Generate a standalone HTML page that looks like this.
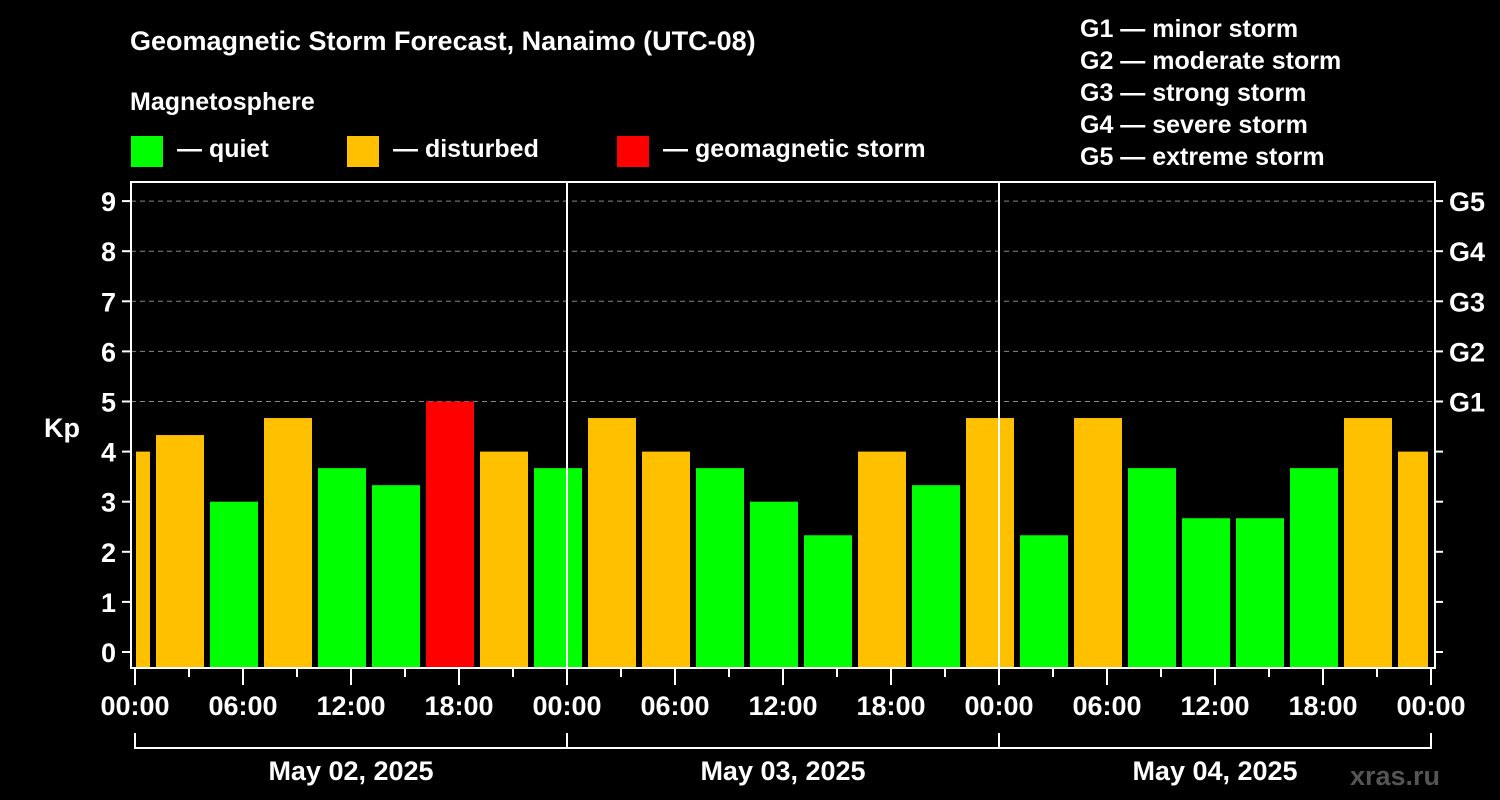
<!DOCTYPE html>
<html><head><meta charset="utf-8"><style>
html,body{margin:0;padding:0;background:#000;}
svg{display:block;font-family:"Liberation Sans",Arial,sans-serif;font-weight:bold;}
</style></head><body>
<svg id="chart" width="1500" height="800" viewBox="0 0 1500 800">
<text x="130" y="50" fill="#fff" font-size="27">Geomagnetic Storm Forecast, Nanaimo (UTC-08)</text>
<text x="130" y="110" fill="#fff" font-size="25">Magnetosphere</text>
<g><rect x="131" y="136" width="32" height="31" fill="#00ff00"/><text x="177" y="157" fill="#fff" font-size="25">— quiet</text></g>
<g><rect x="347" y="136" width="32" height="31" fill="#ffc000"/><text x="393" y="157" fill="#fff" font-size="25">— disturbed</text></g>
<g><rect x="617" y="136" width="32" height="31" fill="#ff0000"/><text x="663" y="157" fill="#fff" font-size="25">— geomagnetic storm</text></g>
<g fill="#fff" font-size="25">
<text x="1080" y="37">G1 — minor storm</text>
<text x="1080" y="69">G2 — moderate storm</text>
<text x="1080" y="101">G3 — strong storm</text>
<text x="1080" y="133">G4 — severe storm</text>
<text x="1080" y="165">G5 — extreme storm</text>
</g>
<text x="62" y="437" fill="#fff" font-size="27" text-anchor="middle">Kp</text>
<text x="1440" y="785" fill="#555" font-size="27" text-anchor="end">xras.ru</text>
<g id="grid"></g><g id="bars"></g><g id="axes"></g>
</svg>
<script>
const kpValues = [4.0, 4.33, 3.0, 4.67, 3.67, 3.33, 5.0, 4.0, 3.67, 4.67, 4.0, 3.67, 3.0, 2.33, 4.0, 3.33, 4.67, 2.33, 4.67, 3.67, 2.67, 2.67, 3.67, 4.67, 4.0];
const yTicks = [0,1,2,3,4,5,6,7,8,9];
const gLabels = ["G1","G2","G3","G4","G5"];
const hourLabels = ["00:00","06:00","12:00","18:00"];
const dayLabels = ["May 02, 2025","May 03, 2025","May 04, 2025"];
const firstBarHour = -0.5;

const NS="http://www.w3.org/2000/svg";
const L=131,R=1435,T=182,B=668,X0=135,PXH=18;
const y=v=>652-v*50.1;
const x=h=>X0+h*PXH;
function mk(tag,attrs,parent,text){const e=document.createElementNS(NS,tag);for(const k in attrs)e.setAttribute(k,attrs[k]);if(text!==undefined)e.textContent=text;parent.appendChild(e);return e;}
const grid=document.getElementById('grid'),bars=document.getElementById('bars'),axes=document.getElementById('axes');
yTicks.forEach(v=>{if(v>=5){const g=mk('line',{x1:L,x2:R,y1:y(v),y2:y(v),stroke:'#888','stroke-dasharray':'5,4','stroke-width':1},grid);

}});
kpValues.forEach((v,i)=>{const c=x(firstBarHour+i*3);let x1=Math.max(c-24,X0+1),x2=Math.min(c+24,R-7);
const col=v>=5?'#ff0000':(v>=4?'#ffc000':'#00ff00');
const r=mk('rect',{x:x1,y:y(v),width:x2-x1,height:B-1-y(v),fill:col},bars);

});
// day separators
for(let d=1;d<3;d++){const l=mk('line',{x1:x(d*24),x2:x(d*24),y1:T,y2:B,stroke:'#fff','stroke-width':2},axes);

}
const frame=mk('rect',{x:L,y:T,width:R-L,height:B-T,fill:'none',stroke:'#fff','stroke-width':2},axes);


yTicks.forEach(v=>{mk('line',{x1:122,x2:L,y1:y(v),y2:y(v),stroke:'#fff','stroke-width':2},axes);
mk('line',{x1:R,x2:1443,y1:y(v),y2:y(v),stroke:'#fff','stroke-width':2},axes);
const t=mk('text',{x:116,y:y(v)+10,fill:'#fff','font-size':27,'text-anchor':'end'},axes,String(v));

});
gLabels.forEach((g,i)=>{const t=mk('text',{x:1449,y:y(5+i)+10,fill:'#fff','font-size':27},axes,g);

});
for(let h=0;h<=72;h+=3){const major=h%6===0;mk('line',{x1:x(h),x2:x(h),y1:B,y2:major?685:677,stroke:'#fff','stroke-width':2},axes);
if(major){const t=mk('text',{x:x(h),y:715,fill:'#fff','font-size':27,'text-anchor':'middle'},axes,hourLabels[(h/6)%4]);

}}
mk('line',{x1:x(0),x2:x(72),y1:748,y2:748,stroke:'#fff','stroke-width':2},axes);
for(let d=0;d<=3;d++)mk('line',{x1:x(d*24),x2:x(d*24),y1:733,y2:749,stroke:'#fff','stroke-width':2},axes);
dayLabels.forEach((s,d)=>{const t=mk('text',{x:x(d*24+12),y:780,fill:'#fff','font-size':27,'text-anchor':'middle'},axes,s);

});
</script>
</body></html>
